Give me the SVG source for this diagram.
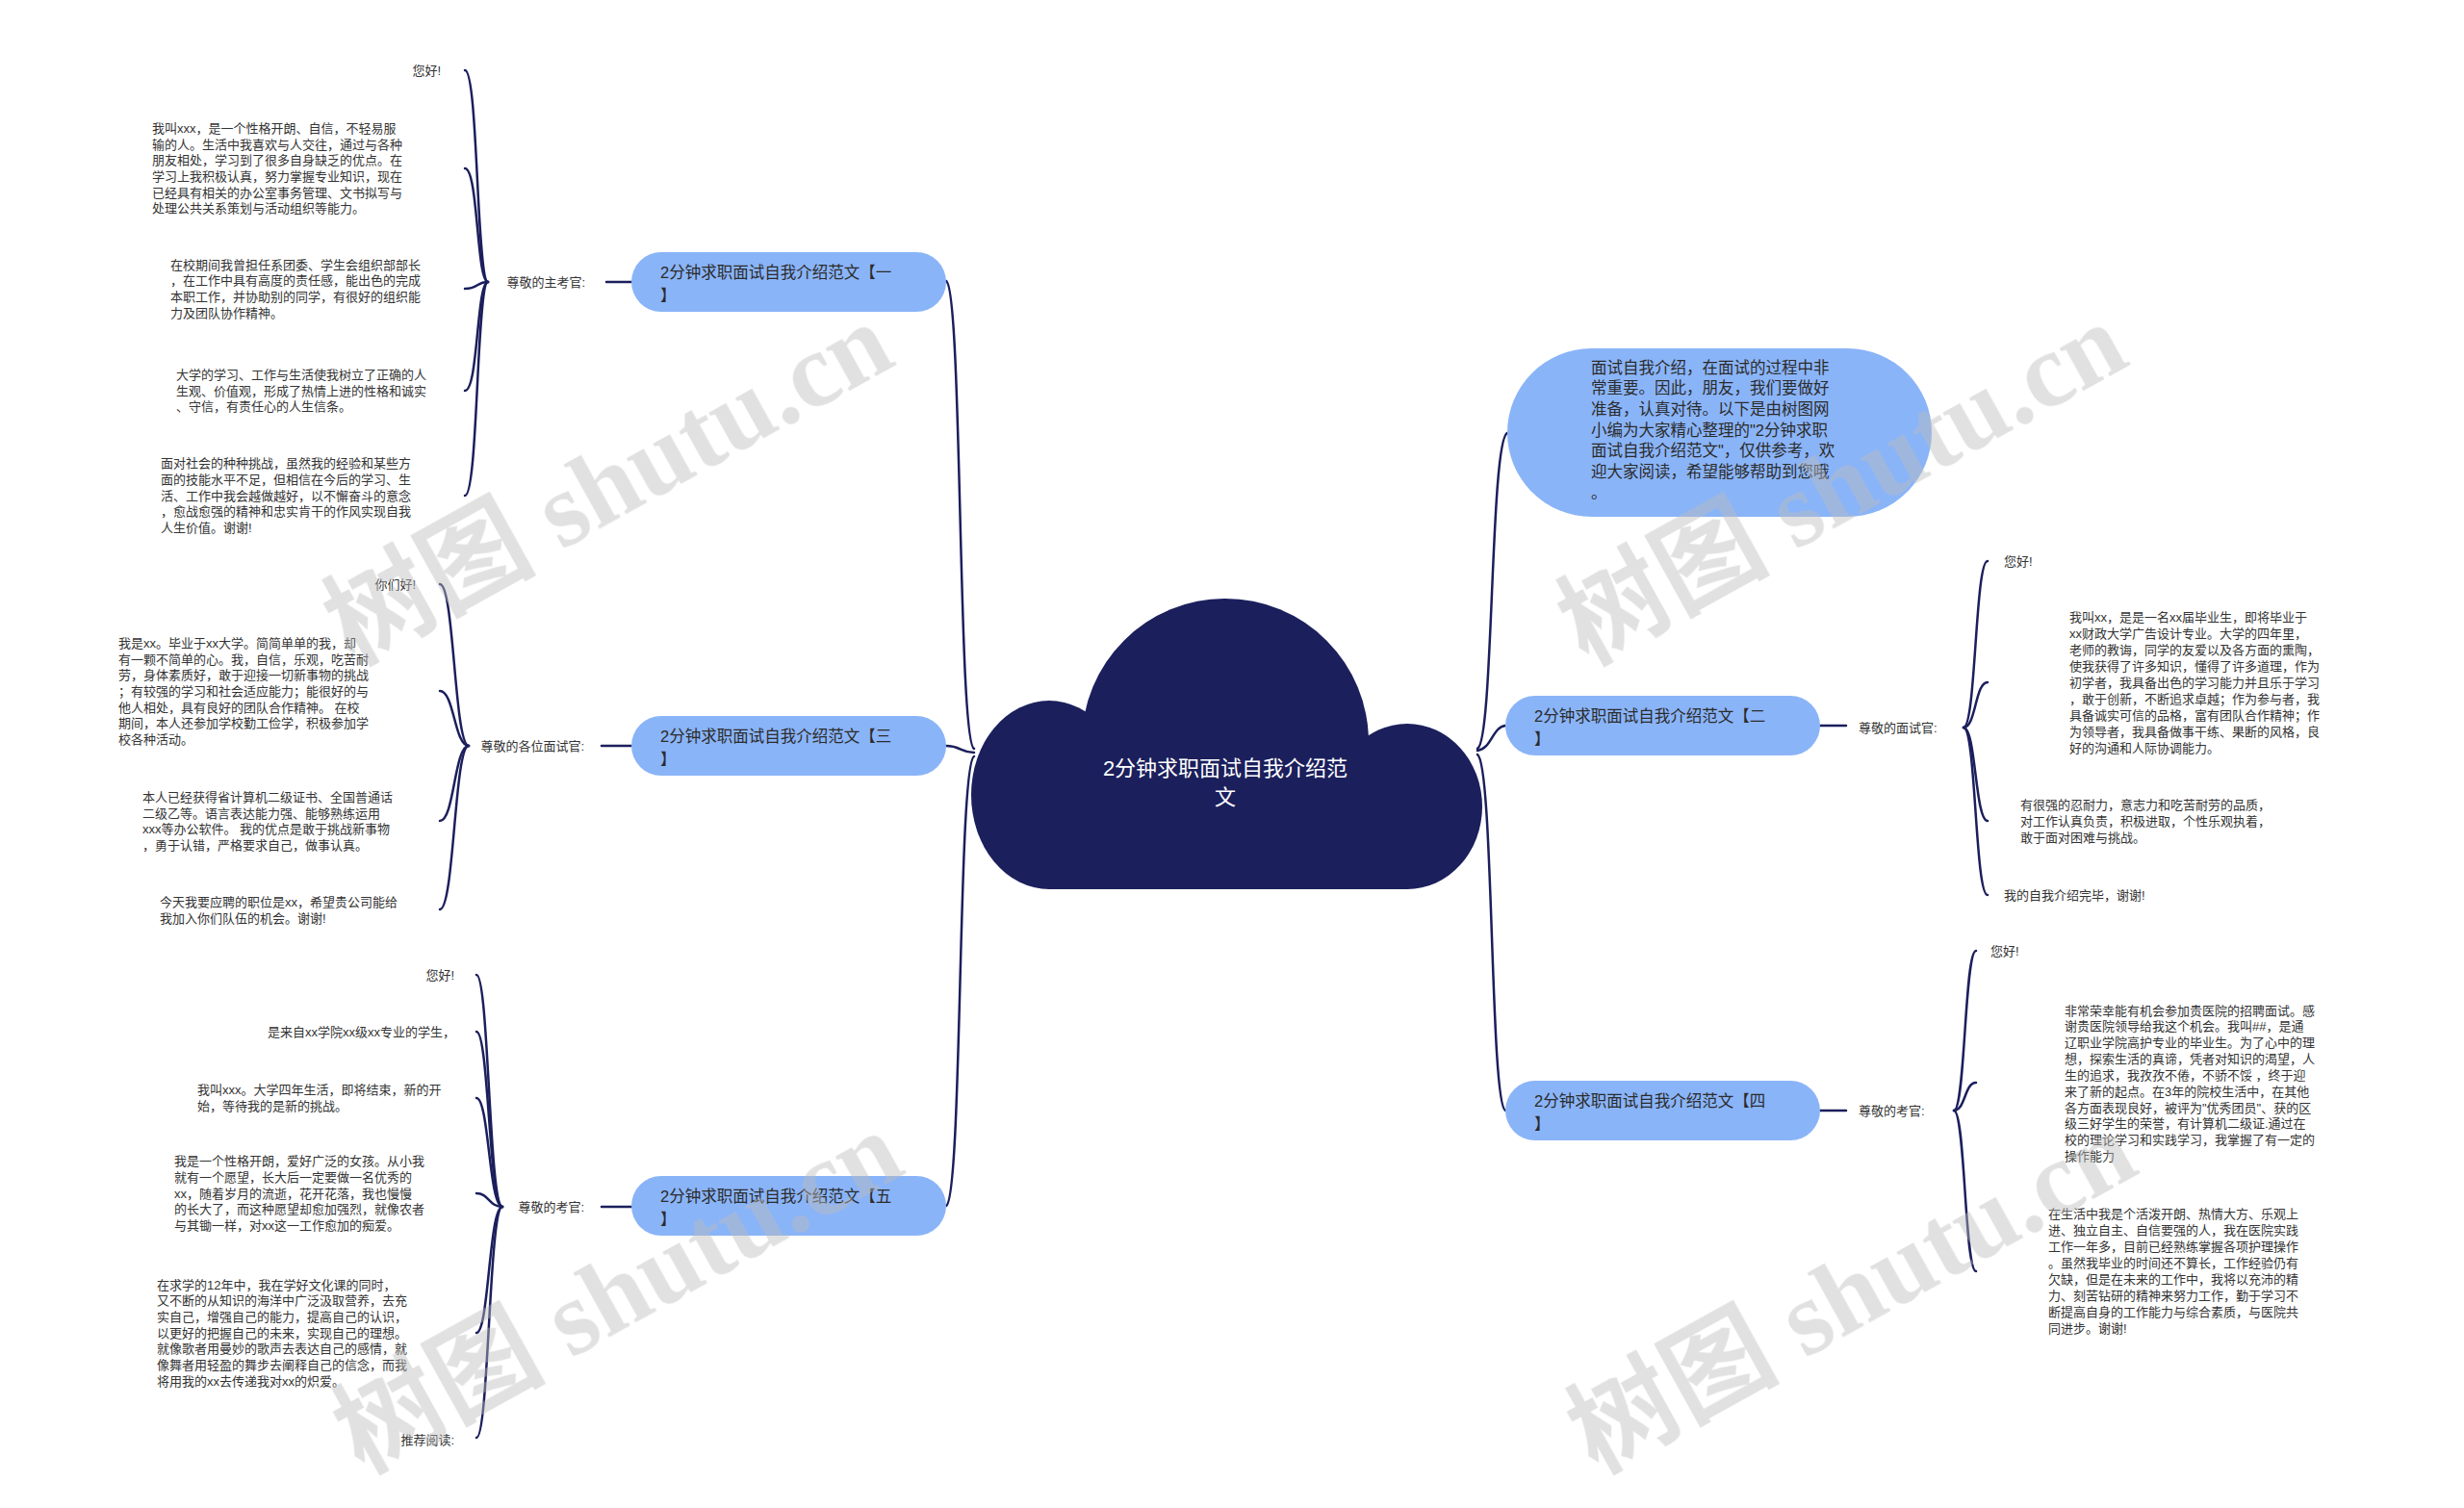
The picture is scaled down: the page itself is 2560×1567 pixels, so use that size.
<svg xmlns="http://www.w3.org/2000/svg" width="2560" height="1567" viewBox="0 0 2560 1567">
<style>
.leaf{font-family:"Liberation Sans","Noto Sans CJK SC",sans-serif;font-size:13px;fill:#333}
.lbl{font-family:"Liberation Sans","Noto Sans CJK SC",sans-serif;font-size:13px;fill:#333}
.nt{font-family:"Liberation Sans","Noto Sans CJK SC",sans-serif;font-size:16.5px;fill:#2b2b2b}
.node{fill:#8ab4f8}
.con path{fill:none;stroke:#1b1f5c;stroke-width:2.5;stroke-linecap:round}
.sl{fill:none;stroke:#1b1f5c;stroke-width:2}
.wm{font-family:"Liberation Serif","Noto Sans CJK SC",serif;font-size:110px;font-weight:bold;fill:#bdbdbd;opacity:0.45}
</style>
<rect width="2560" height="1567" fill="#ffffff"/>

<g id="connectors" class="con">
<path d="M1012,778 C995,770 1000,300 983,292"/>
<path d="M1012,782 C998,782 998,775 983,775"/>
<path d="M1012,786 C995,795 1000,1245 983,1253"/>
<path d="M1535,778 C1552,770 1548,458 1566,450"/>
<path d="M1535,780 C1550,778 1550,756 1564,754"/>
<path d="M1535,784 C1552,795 1548,1146 1564,1154"/>
<path d="M507,293 C495,293 497,73 483,73"/>
<path d="M507,293 C495,293 497,175 483,175"/>
<path d="M507,293 C495,293 497,300 483,300"/>
<path d="M507,293 C495,293 497,406 483,406"/>
<path d="M507,293 C495,293 497,515 483,515"/>
<path d="M487,775 C472,775 472,607 457,607"/>
<path d="M487,775 C472,775 472,718 457,718"/>
<path d="M487,775 C472,775 472,853 457,853"/>
<path d="M487,775 C472,775 472,945 457,945"/>
<path d="M522,1254 C508,1254 508,1013 495,1013"/>
<path d="M522,1254 C508,1254 508,1072 495,1072"/>
<path d="M522,1254 C508,1254 508,1141 495,1141"/>
<path d="M522,1254 C508,1254 508,1240 495,1240"/>
<path d="M522,1254 C508,1254 508,1385 495,1385"/>
<path d="M522,1254 C508,1254 508,1494 495,1494"/>
<path d="M2040,756 C2053,756 2052,583 2065,583"/>
<path d="M2040,756 C2053,756 2052,709 2065,709"/>
<path d="M2040,756 C2053,756 2052,853 2065,853"/>
<path d="M2040,756 C2053,756 2052,930 2065,930"/>
<path d="M2030,1154 C2042,1154 2041,988 2053,988"/>
<path d="M2030,1154 C2042,1154 2041,1125 2053,1125"/>
<path d="M2030,1154 C2042,1154 2041,1321 2053,1321"/>
<path class="sl" d="M630,293 L656,293"/>
<path class="sl" d="M625,775 L656,775"/>
<path class="sl" d="M625,1254 L656,1254"/>
<path class="sl" d="M1891,754 L1918,754"/>
<path class="sl" d="M1891,1154 L1918,1154"/>
</g>

<g id="root">
<g fill="#1b1f5c">
<ellipse cx="1090" cy="826" rx="81" ry="98"/>
<ellipse cx="1462" cy="838" rx="78" ry="86"/>
<circle cx="1273" cy="771" r="149"/>
<rect x="1090" y="771" width="372" height="153"/>
</g>
<text x="1273" y="806" text-anchor="middle" font-family="Liberation Sans,Noto Sans CJK SC,sans-serif" font-size="22px" fill="#ffffff">2分钟求职面试自我介绍范</text>
<text x="1273" y="836" text-anchor="middle" font-family="Liberation Sans,Noto Sans CJK SC,sans-serif" font-size="22px" fill="#ffffff">文</text>
</g>

<g id="intro">
<rect class="node" x="1566" y="362" width="441" height="175" rx="87.5"/>
<text class="nt" x="1653" y="387.5">面试自我介绍，在面试的过程中非</text>
<text class="nt" x="1653" y="409.2">常重要。因此，朋友，我们要做好</text>
<text class="nt" x="1653" y="430.8">准备，认真对待。以下是由树图网</text>
<text class="nt" x="1653" y="452.5">小编为大家精心整理的"2分钟求职</text>
<text class="nt" x="1653" y="474.2">面试自我介绍范文"，仅供参考，欢</text>
<text class="nt" x="1653" y="495.8">迎大家阅读，希望能够帮助到您哦</text>
<text class="nt" x="1653" y="517.5">。</text>
</g>

<g id="n1">
<rect class="node" x="656" y="262" width="327" height="62" rx="31"/>
<text class="nt" x="686" y="289">2分钟求职面试自我介绍范文【一</text>
<text class="nt" x="686" y="313">】</text>
<text class="lbl" x="608" y="297.5" text-anchor="end">尊敬的主考官:</text>
</g>
<g id="n1-leaves" class="leaf">
<text x="458" y="77.5" text-anchor="end">您好!</text>
<text x="158" y="137.8">我叫xxx，是一个性格开朗、自信，不轻易服</text>
<text x="158" y="154.5">输的人。生活中我喜欢与人交往，通过与各种</text>
<text x="158" y="171.2">朋友相处，学习到了很多自身缺乏的优点。在</text>
<text x="158" y="187.8">学习上我积极认真，努力掌握专业知识，现在</text>
<text x="158" y="204.5">已经具有相关的办公室事务管理、文书拟写与</text>
<text x="158" y="221.2">处理公共关系策划与活动组织等能力。</text>
<text x="177" y="279.5">在校期间我曾担任系团委、学生会组织部部长</text>
<text x="177" y="296.2">，在工作中具有高度的责任感，能出色的完成</text>
<text x="177" y="312.8">本职工作，并协助别的同学，有很好的组织能</text>
<text x="177" y="329.5">力及团队协作精神。</text>
<text x="183" y="393.8">大学的学习、工作与生活使我树立了正确的人</text>
<text x="183" y="410.5">生观、价值观，形成了热情上进的性格和诚实</text>
<text x="183" y="427.2">、守信，有责任心的人生信条。</text>
<text x="167" y="486.2">面对社会的种种挑战，虽然我的经验和某些方</text>
<text x="167" y="502.8">面的技能水平不足，但相信在今后的学习、生</text>
<text x="167" y="519.5">活、工作中我会越做越好，以不懈奋斗的意念</text>
<text x="167" y="536.2">，愈战愈强的精神和忠实肯干的作风实现自我</text>
<text x="167" y="552.8">人生价值。谢谢!</text>
</g>

<g id="n3">
<rect class="node" x="656" y="744" width="327" height="62" rx="31"/>
<text class="nt" x="686" y="771">2分钟求职面试自我介绍范文【三</text>
<text class="nt" x="686" y="795">】</text>
<text class="lbl" x="607" y="779.5" text-anchor="end">尊敬的各位面试官:</text>
</g>
<g id="n3-leaves" class="leaf">
<text x="432" y="611.5" text-anchor="end">你们好!</text>
<text x="123" y="672.8">我是xx。毕业于xx大学。简简单单的我，却</text>
<text x="123" y="689.5">有一颗不简单的心。我，自信，乐观，吃苦耐</text>
<text x="123" y="706.2">劳，身体素质好，敢于迎接一切新事物的挑战</text>
<text x="123" y="722.8">；有较强的学习和社会适应能力；能很好的与</text>
<text x="123" y="739.5">他人相处，具有良好的团队合作精神。 在校</text>
<text x="123" y="756.2">期间，本人还参加学校勤工俭学，积极参加学</text>
<text x="123" y="772.8">校各种活动。</text>
<text x="148" y="832.8">本人已经获得省计算机二级证书、全国普通话</text>
<text x="148" y="849.5">二级乙等。语言表达能力强、能够熟练运用</text>
<text x="148" y="866.2">xxx等办公软件。 我的优点是敢于挑战新事物</text>
<text x="148" y="882.8">，勇于认错，严格要求自己，做事认真。</text>
<text x="166" y="941.8">今天我要应聘的职位是xx，希望贵公司能给</text>
<text x="166" y="958.5">我加入你们队伍的机会。谢谢!</text>
</g>

<g id="n5">
<rect class="node" x="656" y="1222" width="327" height="62" rx="31"/>
<text class="nt" x="686" y="1249">2分钟求职面试自我介绍范文【五</text>
<text class="nt" x="686" y="1273">】</text>
<text class="lbl" x="607" y="1258.5" text-anchor="end">尊敬的考官:</text>
</g>
<g id="n5-leaves" class="leaf">
<text x="472" y="1017.5" text-anchor="end">您好!</text>
<text x="473" y="1076.5" text-anchor="end">是来自xx学院xx级xx专业的学生，</text>
<text x="205" y="1137.2">我叫xxx。大学四年生活，即将结束，新的开</text>
<text x="205" y="1153.8">始，等待我的是新的挑战。</text>
<text x="181" y="1211.2">我是一个性格开朗，爱好广泛的女孩。从小我</text>
<text x="181" y="1227.8">就有一个愿望，长大后一定要做一名优秀的</text>
<text x="181" y="1244.5">xx，随着岁月的流逝，花开花落，我也慢慢</text>
<text x="181" y="1261.2">的长大了，而这种愿望却愈加强烈，就像农者</text>
<text x="181" y="1277.8">与其锄一样，对xx这一工作愈加的痴爱。</text>
<text x="163" y="1339.5">在求学的12年中，我在学好文化课的同时，</text>
<text x="163" y="1356.2">又不断的从知识的海洋中广泛汲取营养，去充</text>
<text x="163" y="1372.8">实自己，增强自己的能力，提高自己的认识，</text>
<text x="163" y="1389.5">以更好的把握自己的未来，实现自己的理想。</text>
<text x="163" y="1406.2">就像歌者用曼妙的歌声去表达自己的感情，就</text>
<text x="163" y="1422.8">像舞者用轻盈的舞步去阐释自己的信念，而我</text>
<text x="163" y="1439.5">将用我的xx去传递我对xx的炽爱。</text>
<text x="472" y="1500.5" text-anchor="end">推荐阅读:</text>
</g>

<g id="n2">
<rect class="node" x="1564" y="723" width="327" height="62" rx="31"/>
<text class="nt" x="1594" y="750">2分钟求职面试自我介绍范文【二</text>
<text class="nt" x="1594" y="774">】</text>
<text class="lbl" x="1931" y="760.5">尊敬的面试官:</text>
</g>
<g id="n2-leaves" class="leaf">
<text x="2082" y="587.5">您好!</text>
<text x="2150" y="645.5">我叫xx，是是一名xx届毕业生，即将毕业于</text>
<text x="2150" y="662.5">xx财政大学广告设计专业。大学的四年里，</text>
<text x="2150" y="679.5">老师的教诲，同学的友爱以及各方面的熏陶，</text>
<text x="2150" y="696.5">使我获得了许多知识，懂得了许多道理，作为</text>
<text x="2150" y="713.5">初学者，我具备出色的学习能力并且乐于学习</text>
<text x="2150" y="730.5">，敢于创新，不断追求卓越；作为参与者，我</text>
<text x="2150" y="747.5">具备诚实可信的品格，富有团队合作精神；作</text>
<text x="2150" y="764.5">为领导者，我具备做事干练、果断的风格，良</text>
<text x="2150" y="781.5">好的沟通和人际协调能力。</text>
<text x="2099" y="841.2">有很强的忍耐力，意志力和吃苦耐劳的品质，</text>
<text x="2099" y="857.8">对工作认真负责，积极进取，个性乐观执着，</text>
<text x="2099" y="874.5">敢于面对困难与挑战。</text>
<text x="2082" y="934.5">我的自我介绍完毕，谢谢!</text>
</g>

<g id="n4">
<rect class="node" x="1564" y="1123" width="327" height="62" rx="31"/>
<text class="nt" x="1594" y="1150">2分钟求职面试自我介绍范文【四</text>
<text class="nt" x="1594" y="1174">】</text>
<text class="lbl" x="1931" y="1158.5">尊敬的考官:</text>
</g>
<g id="n4-leaves" class="leaf">
<text x="2068" y="992.5">您好!</text>
<text x="2145" y="1054.5">非常荣幸能有机会参加贵医院的招聘面试。感</text>
<text x="2145" y="1071.3">谢贵医院领导给我这个机会。我叫##，是通</text>
<text x="2145" y="1088.2">辽职业学院高护专业的毕业生。为了心中的理</text>
<text x="2145" y="1105">想，探索生活的真谛，凭者对知识的渴望，人</text>
<text x="2145" y="1121.9">生的追求，我孜孜不倦，不骄不馁 ，终于迎</text>
<text x="2145" y="1138.7">来了新的起点。在3年的院校生活中，在其他</text>
<text x="2145" y="1155.6">各方面表现良好，被评为"优秀团员"、获的区</text>
<text x="2145" y="1172.4">级三好学生的荣誉，有计算机二级证.通过在</text>
<text x="2145" y="1189.3">校的理论学习和实践学习，我掌握了有一定的</text>
<text x="2145" y="1206.1">操作能力</text>
<text x="2128" y="1266.2">在生活中我是个活泼开朗、热情大方、乐观上</text>
<text x="2128" y="1283.1">进、独立自主、自信要强的人，我在医院实践</text>
<text x="2128" y="1300">工作一年多，目前已经熟练掌握各项护理操作</text>
<text x="2128" y="1316.9">。虽然我毕业的时间还不算长，工作经验仍有</text>
<text x="2128" y="1333.8">欠缺，但是在未来的工作中，我将以充沛的精</text>
<text x="2128" y="1350.7">力、刻苦钻研的精神来努力工作，勤于学习不</text>
<text x="2128" y="1367.6">断提高自身的工作能力与综合素质，与医院共</text>
<text x="2128" y="1384.5">同进步。谢谢!</text>
</g>

<g id="watermarks" class="wm" text-anchor="middle">
<text transform="translate(650,535) rotate(-29)">树图 shutu.cn</text>
<text transform="translate(1932,535) rotate(-29)">树图 shutu.cn</text>
<text transform="translate(660,1375) rotate(-29)">树图 shutu.cn</text>
<text transform="translate(1942,1375) rotate(-29)">树图 shutu.cn</text>
</g>
</svg>
